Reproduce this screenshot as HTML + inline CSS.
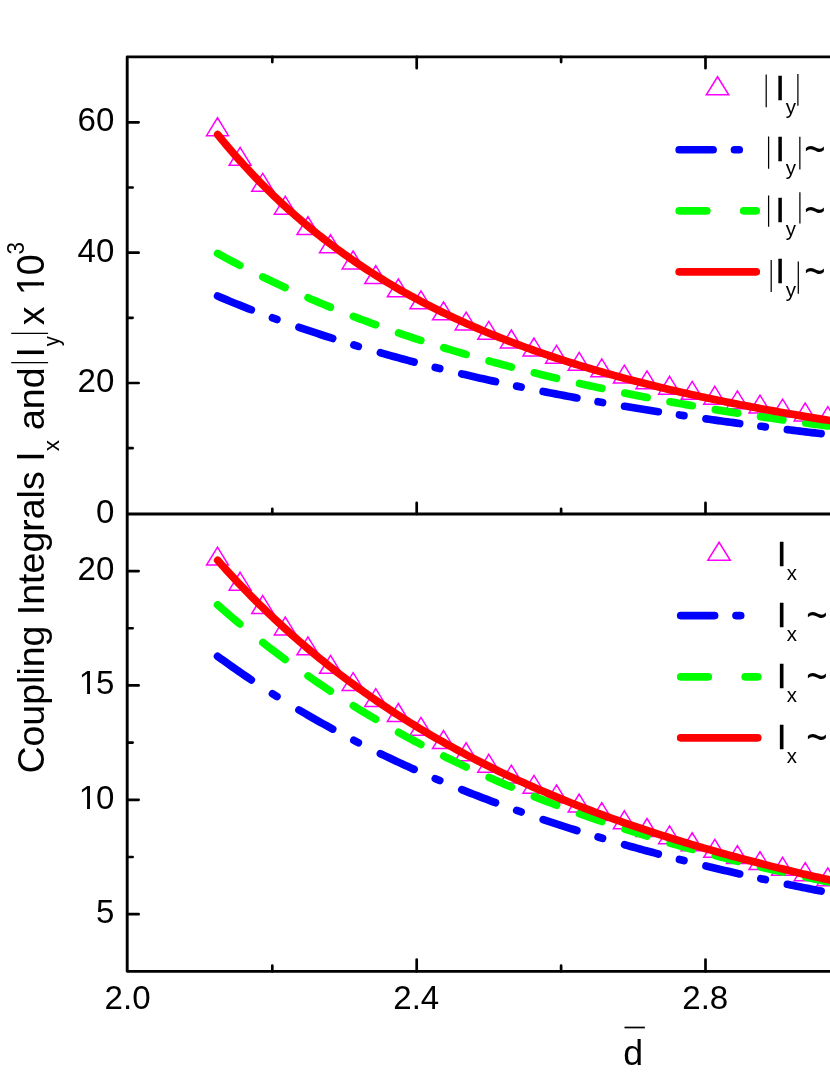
<!DOCTYPE html>
<html><head><meta charset="utf-8"><title>Coupling Integrals</title>
<style>html,body{margin:0;padding:0;background:#fff}body{width:830px;height:1075px;overflow:hidden}</style></head>
<body>
<svg width="830" height="1075" viewBox="0 0 830 1075" style="display:block;font-family:'Liberation Sans',sans-serif;font-kerning:none">
<rect width="830" height="1075" fill="#fff"/>
<path d="M217.50,117.76L228.47,135.66L206.53,135.66ZM240.10,147.38L251.07,165.28L229.14,165.28ZM262.71,173.37L273.67,191.26L251.74,191.26ZM285.31,196.29L296.28,214.18L274.35,214.18ZM307.92,216.62L318.88,234.52L296.95,234.52ZM330.52,234.75L341.48,252.65L319.56,252.65ZM353.12,251.00L364.09,268.90L342.16,268.90ZM375.73,265.64L386.69,283.54L364.76,283.54ZM398.33,278.90L409.30,296.79L387.37,296.79ZM420.94,290.95L431.90,308.85L409.97,308.85ZM443.54,301.97L454.50,319.86L432.57,319.86ZM466.14,312.08L477.11,329.97L455.18,329.97ZM488.75,321.39L499.71,339.29L477.78,339.29ZM511.35,330.01L522.32,347.91L500.39,347.91ZM533.96,338.02L544.92,355.91L522.99,355.91ZM556.56,345.47L567.52,363.37L545.59,363.37ZM579.16,352.44L590.13,370.34L568.20,370.34ZM601.77,358.97L612.73,376.87L590.80,376.87ZM624.37,365.10L635.34,383.00L613.41,383.00ZM646.98,370.87L657.94,388.77L636.01,388.77ZM669.58,376.31L680.54,394.20L658.61,394.20ZM692.18,381.44L703.15,399.33L681.22,399.33ZM714.79,386.27L725.75,404.17L703.82,404.17ZM737.39,390.84L748.36,408.73L726.43,408.73ZM760.00,395.15L770.96,413.04L749.03,413.04ZM782.60,399.21L793.57,417.10L771.63,417.10ZM805.20,403.02L816.17,420.92L794.24,420.92ZM827.81,406.61L838.77,424.51L816.84,424.51ZM850.41,409.97L861.38,427.86L839.45,427.86Z" fill="none" stroke="#f0f" stroke-width="1.5" stroke-linejoin="miter"/>
<path d="M217.50,547.10L228.47,565.00L206.53,565.00ZM240.10,572.29L251.07,590.19L229.14,590.19ZM262.71,595.54L273.67,613.43L251.74,613.43ZM285.31,617.02L296.28,634.91L274.35,634.91ZM307.92,636.92L318.88,654.82L296.95,654.82ZM330.52,655.39L341.48,673.29L319.56,673.29ZM353.12,672.57L364.09,690.46L342.16,690.46ZM375.73,688.57L386.69,706.46L364.76,706.46ZM398.33,703.50L409.30,721.39L387.37,721.39ZM420.94,717.45L431.90,735.35L409.97,735.35ZM443.54,730.52L454.50,748.42L432.57,748.42ZM466.14,742.78L477.11,760.68L455.18,760.68ZM488.75,754.30L499.71,772.19L477.78,772.19ZM511.35,765.13L522.32,783.02L500.39,783.02ZM533.96,775.33L544.92,793.23L522.99,793.23ZM556.56,784.96L567.52,802.85L545.59,802.85ZM579.16,794.05L590.13,811.94L568.20,811.94ZM601.77,802.64L612.73,820.54L590.80,820.54ZM624.37,810.78L635.34,828.68L613.41,828.68ZM646.98,818.50L657.94,836.39L636.01,836.39ZM669.58,825.82L680.54,843.71L658.61,843.71ZM692.18,832.76L703.15,850.66L681.22,850.66ZM714.79,839.37L725.75,857.26L703.82,857.26ZM737.39,845.65L748.36,863.54L726.43,863.54ZM760.00,851.62L770.96,869.52L749.03,869.52ZM782.60,857.31L793.57,875.21L771.63,875.21ZM805.20,862.73L816.17,880.63L794.24,880.63ZM827.81,867.90L838.77,885.79L816.84,885.79ZM850.41,872.82L861.38,890.71L839.45,890.71Z" fill="none" stroke="#f0f" stroke-width="1.5" stroke-linejoin="miter"/>
<path d="M217.60,296.08L220.66,297.38L223.72,298.66L226.78,299.93L229.84,301.19L232.90,302.44L235.95,303.69L239.01,304.92L242.07,306.14L245.13,307.36L248.19,308.56L251.25,309.76M272.50,317.81L276.90,319.42M299.00,327.27L302.06,328.32L305.12,329.37L308.18,330.41L311.24,331.44L314.30,332.46L317.35,333.47L320.41,334.48L323.47,335.48L326.53,336.47L329.59,337.46L332.65,338.43M353.90,345.03L358.30,346.35M380.40,352.80L383.46,353.67L386.52,354.53L389.58,355.38L392.64,356.23L395.70,357.07L398.75,357.91L401.81,358.74L404.87,359.57L407.93,360.38L410.99,361.20L414.05,362.00M435.30,367.46L439.70,368.56M461.80,373.90L464.86,374.62L467.92,375.34L470.98,376.05L474.04,376.75L477.10,377.45L480.15,378.15L483.21,378.84L486.27,379.52L489.33,380.21L492.39,380.88L495.45,381.56M516.70,386.11L521.10,387.02M543.20,391.50L546.26,392.10L549.32,392.70L552.38,393.30L555.44,393.89L558.50,394.47L561.55,395.06L564.61,395.64L567.67,396.22L570.73,396.79L573.79,397.36L576.85,397.92M598.10,401.75L602.50,402.53M624.60,406.30L627.66,406.81L630.72,407.32L633.78,407.82L636.84,408.32L639.90,408.82L642.95,409.32L646.01,409.81L649.07,410.30L652.13,410.78L655.19,411.26L658.25,411.74M679.50,415.00L683.90,415.65M706.00,418.87L709.06,419.30L712.12,419.74L715.18,420.17L718.24,420.59L721.30,421.02L724.35,421.44L727.41,421.86L730.47,422.28L733.53,422.69L736.59,423.11L739.65,423.52M760.90,426.30L765.30,426.87M787.40,429.63L790.46,430.00L793.52,430.37L796.58,430.74L799.64,431.11L802.70,431.48L805.75,431.84L808.81,432.20L811.87,432.56L814.93,432.92L817.99,433.27L821.05,433.63M842.30,436.03L846.70,436.52" fill="none" stroke="#00f" stroke-width="7.7" stroke-linecap="round" stroke-linejoin="round"/>
<path d="M217.60,253.46L220.77,255.20L223.94,256.92L227.11,258.63L230.29,260.33L233.46,262.01L236.63,263.68L239.80,265.33M262.85,276.94L266.02,278.48L269.19,280.01L272.36,281.53L275.54,283.04L278.71,284.53L281.88,286.01L285.05,287.48M308.10,297.80L311.27,299.17L314.44,300.53L317.61,301.89L320.79,303.22L323.96,304.55L327.13,305.87L330.30,307.18M353.35,316.37L356.52,317.59L359.69,318.80L362.86,320.01L366.04,321.20L369.21,322.39L372.38,323.56L375.55,324.73M398.60,332.93L401.77,334.02L404.94,335.10L408.11,336.18L411.29,337.24L414.46,338.30L417.63,339.35L420.80,340.39M443.85,347.72L447.02,348.70L450.19,349.67L453.36,350.63L456.54,351.58L459.71,352.53L462.88,353.47L466.05,354.40M489.10,360.97L492.27,361.84L495.44,362.71L498.61,363.57L501.79,364.43L504.96,365.28L508.13,366.12L511.30,366.95M534.35,372.84L537.52,373.63L540.69,374.41L543.86,375.18L547.04,375.95L550.21,376.71L553.38,377.47L556.55,378.22M579.60,383.51L582.77,384.22L585.94,384.92L589.11,385.62L592.29,386.31L595.46,386.99L598.63,387.67L601.80,388.35M624.85,393.11L628.02,393.75L631.19,394.38L634.36,395.01L637.54,395.63L640.71,396.25L643.88,396.86L647.05,397.47M670.10,401.77L673.27,402.34L676.44,402.91L679.61,403.48L682.79,404.04L685.96,404.60L689.13,405.15L692.30,405.70M715.35,409.58L718.52,410.10L721.69,410.62L724.86,411.13L728.04,411.64L731.21,412.14L734.38,412.64L737.55,413.14M760.60,416.65L763.77,417.12L766.94,417.59L770.11,418.05L773.29,418.51L776.46,418.97L779.63,419.42L782.80,419.87M805.85,423.05L809.02,423.48L812.19,423.90L815.36,424.32L818.54,424.74L821.71,425.15L824.88,425.56L828.05,425.97" fill="none" stroke="#0f0" stroke-width="7.7" stroke-linecap="round" stroke-linejoin="round"/>
<path d="M217.70,134.60L220.70,138.28L223.70,141.91L226.70,145.49L229.71,149.02L232.71,152.50L235.71,155.94L238.71,159.33L241.71,162.67L244.71,165.97L247.71,169.23L250.72,172.44L253.72,175.61L256.72,178.73L259.72,181.82L262.72,184.87L265.72,187.87L268.72,190.84L271.73,193.76L274.73,196.65L277.73,199.50L280.73,202.32L283.73,205.09L286.73,207.84L289.73,210.54L292.74,213.22L295.74,215.85L298.74,218.46L301.74,221.03L304.74,223.57L307.74,226.07L310.74,228.55L313.75,230.99L316.75,233.41L319.75,235.79L322.75,238.15L325.75,240.47L328.75,242.77L331.75,245.03L334.76,247.27L337.76,249.49L340.76,251.67L343.76,253.83L346.76,255.96L349.76,258.07L352.76,260.15L355.77,262.21L358.77,264.24L361.77,266.25L364.77,268.23L367.77,270.19L370.77,272.12L373.77,274.04L376.78,275.93L379.78,277.80L382.78,279.65L385.78,281.47L388.78,283.28L391.78,285.06L394.78,286.82L397.79,288.56L400.79,290.29L403.79,291.99L406.79,293.67L409.79,295.34L412.79,296.98L415.79,298.61L418.80,300.22L421.80,301.81L424.80,303.38L427.80,304.93L430.80,306.47L433.80,307.99L436.80,309.49L439.81,310.98L442.81,312.45L445.81,313.91L448.81,315.35L451.81,316.77L454.81,318.18L457.81,319.57L460.82,320.95L463.82,322.31L466.82,323.66L469.82,324.99L472.82,326.31L475.82,327.62L478.82,328.91L481.83,330.18L484.83,331.45L487.83,332.70L490.83,333.94L493.83,335.17L496.83,336.38L499.83,337.58L502.84,338.77L505.84,339.94L508.84,341.11L511.84,342.26L514.84,343.40L517.84,344.53L520.84,345.64L523.85,346.75L526.85,347.85L529.85,348.93L532.85,350.00L535.85,351.07L538.85,352.12L541.86,353.16L544.86,354.19L547.86,355.21L550.86,356.23L553.86,357.23L556.86,358.22L559.86,359.20L562.87,360.18L565.87,361.14L568.87,362.10L571.87,363.04L574.87,363.98L577.87,364.91L580.87,365.83L583.88,366.74L586.88,367.64L589.88,368.54L592.88,369.42L595.88,370.30L598.88,371.17L601.88,372.03L604.89,372.89L607.89,373.73L610.89,374.57L613.89,375.40L616.89,376.23L619.89,377.04L622.89,377.85L625.90,378.66L628.90,379.45L631.90,380.24L634.90,381.02L637.90,381.80L640.90,382.56L643.90,383.32L646.91,384.08L649.91,384.83L652.91,385.57L655.91,386.31L658.91,387.04L661.91,387.76L664.91,388.48L667.92,389.19L670.92,389.89L673.92,390.59L676.92,391.29L679.92,391.98L682.92,392.66L685.92,393.34L688.93,394.01L691.93,394.68L694.93,395.34L697.93,395.99L700.93,396.64L703.93,397.29L706.93,397.93L709.94,398.57L712.94,399.20L715.94,399.82L718.94,400.44L721.94,401.06L724.94,401.67L727.94,402.28L730.95,402.88L733.95,403.48L736.95,404.07L739.95,404.66L742.95,405.25L745.95,405.83L748.95,406.40L751.96,406.98L754.96,407.54L757.96,408.11L760.96,408.67L763.96,409.22L766.96,409.78L769.96,410.32L772.97,410.87L775.97,411.41L778.97,411.94L781.97,412.48L784.97,413.01L787.97,413.53L790.97,414.06L793.98,414.57L796.98,415.09L799.98,415.60L802.98,416.11L805.98,416.61L808.98,417.12L811.98,417.61L814.99,418.11L817.99,418.60L820.99,419.09L823.99,419.58L826.99,420.06L829.99,420.54L832.99,421.02L836.00,421.49L839.00,421.96L842.00,422.43L845.00,422.89" fill="none" stroke="#f00" stroke-width="7.7" stroke-linecap="round" stroke-linejoin="round"/>
<path d="M217.60,656.31L220.66,658.53L223.72,660.74L226.78,662.93L229.84,665.11L232.90,667.26L235.95,669.40L239.01,671.53L242.07,673.63L245.13,675.72L248.19,677.79L251.25,679.85M272.50,693.69L276.90,696.47M299.00,709.94L302.06,711.75L305.12,713.54L308.18,715.32L311.24,717.08L314.30,718.84L317.35,720.57L320.41,722.30L323.47,724.01L326.53,725.71L329.59,727.40L332.65,729.07M353.90,740.37L358.30,742.63M380.40,753.66L383.46,755.14L386.52,756.61L389.58,758.06L392.64,759.51L395.70,760.95L398.75,762.38L401.81,763.80L404.87,765.20L407.93,766.60L410.99,767.99L414.05,769.37M435.30,778.67L439.70,780.54M461.80,789.65L464.86,790.88L467.92,792.09L470.98,793.30L474.04,794.50L477.10,795.70L480.15,796.88L483.21,798.06L486.27,799.22L489.33,800.38L492.39,801.54L495.45,802.68M516.70,810.42L521.10,811.98M543.20,819.59L546.26,820.61L549.32,821.63L552.38,822.64L555.44,823.64L558.50,824.64L561.55,825.63L564.61,826.62L567.67,827.60L570.73,828.57L573.79,829.54L576.85,830.50M598.10,837.00L602.50,838.31M624.60,844.73L627.66,845.59L630.72,846.45L633.78,847.30L636.84,848.15L639.90,849.00L642.95,849.84L646.01,850.67L649.07,851.50L652.13,852.32L655.19,853.14L658.25,853.95M679.50,859.47L683.90,860.59M706.00,866.04L709.06,866.78L712.12,867.51L715.18,868.24L718.24,868.96L721.30,869.68L724.35,870.40L727.41,871.11L730.47,871.82L733.53,872.52L736.59,873.22L739.65,873.92M760.90,878.64L765.30,879.60M787.40,884.28L790.46,884.92L793.52,885.55L796.58,886.17L799.64,886.80L802.70,887.42L805.75,888.04L808.81,888.65L811.87,889.26L814.93,889.87L817.99,890.47L821.05,891.07M842.30,895.15L846.70,895.98" fill="none" stroke="#00f" stroke-width="7.7" stroke-linecap="round" stroke-linejoin="round"/>
<path d="M217.60,604.91L220.77,607.69L223.94,610.45L227.11,613.19L230.29,615.90L233.46,618.59L236.63,621.26L239.80,623.91M262.85,642.50L266.02,644.98L269.19,647.43L272.36,649.86L275.54,652.28L278.71,654.67L281.88,657.04L285.05,659.40M308.10,675.95L311.27,678.15L314.44,680.34L317.61,682.50L320.79,684.65L323.96,686.78L327.13,688.90L330.30,691.00M353.35,705.75L356.52,707.72L359.69,709.67L362.86,711.60L366.04,713.52L369.21,715.42L372.38,717.31L375.55,719.18M398.60,732.36L401.77,734.11L404.94,735.85L408.11,737.58L411.29,739.29L414.46,741.00L417.63,742.68L420.80,744.36M443.85,756.14L447.02,757.71L450.19,759.27L453.36,760.82L456.54,762.35L459.71,763.87L462.88,765.39L466.05,766.88M489.10,777.44L492.27,778.85L495.44,780.25L498.61,781.63L501.79,783.01L504.96,784.37L508.13,785.73L511.30,787.07M534.35,796.55L537.52,797.81L540.69,799.06L543.86,800.31L547.04,801.54L550.21,802.77L553.38,803.99L556.55,805.19M579.60,813.71L582.77,814.84L585.94,815.97L589.11,817.09L592.29,818.20L595.46,819.30L598.63,820.40L601.80,821.48M624.85,829.14L628.02,830.17L631.19,831.18L634.36,832.19L637.54,833.19L640.71,834.18L643.88,835.17L647.05,836.14M670.10,843.05L673.27,843.97L676.44,844.88L679.61,845.79L682.79,846.69L685.96,847.59L689.13,848.48L692.30,849.36M715.35,855.59L718.52,856.42L721.69,857.25L724.86,858.07L728.04,858.88L731.21,859.69L734.38,860.49L737.55,861.29M760.60,866.92L763.77,867.67L766.94,868.42L770.11,869.16L773.29,869.89L776.46,870.62L779.63,871.35L782.80,872.07M805.85,877.16L809.02,877.84L812.19,878.52L815.36,879.19L818.54,879.85L821.71,880.52L824.88,881.17L828.05,881.83" fill="none" stroke="#0f0" stroke-width="7.7" stroke-linecap="round" stroke-linejoin="round"/>
<path d="M217.70,560.31L220.70,563.69L223.70,567.03L226.70,570.34L229.71,573.62L232.71,576.87L235.71,580.08L238.71,583.27L241.71,586.42L244.71,589.54L247.71,592.63L250.72,595.68L253.72,598.71L256.72,601.71L259.72,604.68L262.72,607.62L265.72,610.54L268.72,613.42L271.73,616.28L274.73,619.10L277.73,621.91L280.73,624.68L283.73,627.43L286.73,630.15L289.73,632.84L292.74,635.51L295.74,638.16L298.74,640.78L301.74,643.37L304.74,645.94L307.74,648.49L310.74,651.01L313.75,653.51L316.75,655.98L319.75,658.44L322.75,660.86L325.75,663.27L328.75,665.65L331.75,668.02L334.76,670.36L337.76,672.68L340.76,674.97L343.76,677.25L346.76,679.50L349.76,681.74L352.76,683.95L355.77,686.15L358.77,688.32L361.77,690.48L364.77,692.61L367.77,694.73L370.77,696.82L373.77,698.90L376.78,700.96L379.78,703.00L382.78,705.03L385.78,707.03L388.78,709.02L391.78,710.99L394.78,712.94L397.79,714.88L400.79,716.79L403.79,718.70L406.79,720.58L409.79,722.45L412.79,724.30L415.79,726.14L418.80,727.96L421.80,729.76L424.80,731.55L427.80,733.32L430.80,735.08L433.80,736.82L436.80,738.55L439.81,740.26L442.81,741.96L445.81,743.65L448.81,745.32L451.81,746.97L454.81,748.62L457.81,750.24L460.82,751.86L463.82,753.46L466.82,755.05L469.82,756.62L472.82,758.18L475.82,759.73L478.82,761.27L481.83,762.79L484.83,764.30L487.83,765.80L490.83,767.28L493.83,768.76L496.83,770.22L499.83,771.67L502.84,773.11L505.84,774.53L508.84,775.95L511.84,777.35L514.84,778.75L517.84,780.13L520.84,781.50L523.85,782.86L526.85,784.20L529.85,785.54L532.85,786.87L535.85,788.19L538.85,789.49L541.86,790.79L544.86,792.07L547.86,793.35L550.86,794.62L553.86,795.87L556.86,797.12L559.86,798.36L562.87,799.58L565.87,800.80L568.87,802.01L571.87,803.21L574.87,804.40L577.87,805.58L580.87,806.75L583.88,807.91L586.88,809.07L589.88,810.21L592.88,811.35L595.88,812.48L598.88,813.60L601.88,814.71L604.89,815.81L607.89,816.91L610.89,818.00L613.89,819.08L616.89,820.15L619.89,821.21L622.89,822.27L625.90,823.31L628.90,824.35L631.90,825.39L634.90,826.41L637.90,827.43L640.90,828.44L643.90,829.44L646.91,830.44L649.91,831.43L652.91,832.41L655.91,833.39L658.91,834.35L661.91,835.32L664.91,836.27L667.92,837.22L670.92,838.16L673.92,839.09L676.92,840.02L679.92,840.94L682.92,841.86L685.92,842.77L688.93,843.67L691.93,844.57L694.93,845.46L697.93,846.34L700.93,847.22L703.93,848.09L706.93,848.96L709.94,849.82L712.94,850.67L715.94,851.52L718.94,852.36L721.94,853.20L724.94,854.03L727.94,854.86L730.95,855.68L733.95,856.50L736.95,857.31L739.95,858.11L742.95,858.91L745.95,859.71L748.95,860.50L751.96,861.28L754.96,862.06L757.96,862.83L760.96,863.60L763.96,864.37L766.96,865.13L769.96,865.88L772.97,866.63L775.97,867.38L778.97,868.12L781.97,868.85L784.97,869.58L787.97,870.31L790.97,871.03L793.98,871.75L796.98,872.46L799.98,873.17L802.98,873.88L805.98,874.58L808.98,875.27L811.98,875.96L814.99,876.65L817.99,877.34L820.99,878.01L823.99,878.69L826.99,879.36L829.99,880.03L832.99,880.69L836.00,881.35L839.00,882.01L842.00,882.66L845.00,883.30" fill="none" stroke="#f00" stroke-width="7.7" stroke-linecap="round" stroke-linejoin="round"/>
<g stroke="#000" fill="none" stroke-linecap="butt" stroke-linejoin="round">
<path d="M835,56.9H127.2V971.35H835M127.2,514.0H835" stroke-width="2.9"/>
<path d="M127.2,122.35H138.65M127.2,187.52H132.65M127.2,252.68H138.65M127.2,317.84H132.65M127.2,383.00H138.65M127.2,448.17H132.65M127.2,571.10H138.65M127.2,628.27H132.65M127.2,685.45H138.65M127.2,742.62H132.65M127.2,799.80H138.65M127.2,856.98H132.65M127.2,914.15H138.65M272.30,56.9v5.15M272.30,514.0v-5.15M272.30,971.35v-5.65M416.70,56.9v11.25M416.70,514.0v-11.25M416.70,971.35v-11.75M561.10,56.9v5.15M561.10,514.0v-5.15M561.10,971.35v-5.65M705.50,56.9v11.25M705.50,514.0v-11.25M705.50,971.35v-11.75" stroke-width="2.7" stroke-linecap="round"/>
</g>
<path d="M624.5,1027.5H644.9" stroke="#000" stroke-width="1.7"/>
<path d="M11.2,362.5H48.1M11.2,333.3H48.1" stroke="#000" stroke-width="1.25"/>
<path d="M717.55,76.75L728.76,94.85L706.33,94.85Z" fill="none" stroke="#f0f" stroke-width="1.5"/>
<path d="M679.20,149.75h33.9M734.50,149.75h4.7" stroke="#00f" stroke-width="7.7" stroke-linecap="round"/>
<path d="M679.20,210.80h27.6M743.70,210.80H756.25" stroke="#0f0" stroke-width="7.7" stroke-linecap="round"/>
<path d="M679.20,271.85H756.25" stroke="#f00" stroke-width="7.7" stroke-linecap="round"/>
<path d="M719.05,542.25L730.26,560.35L707.83,560.35Z" fill="none" stroke="#f0f" stroke-width="1.5"/>
<path d="M680.70,615.60h33.9M736.00,615.60h4.7" stroke="#00f" stroke-width="7.7" stroke-linecap="round"/>
<path d="M680.70,676.80h27.6M745.20,676.80H757.75" stroke="#0f0" stroke-width="7.7" stroke-linecap="round"/>
<path d="M680.70,737.80H757.75" stroke="#f00" stroke-width="7.7" stroke-linecap="round"/>
<path d="M766.2,74.5V107.2M797.9,74.0V105.8M768.6,136.5V168.8M799.85,136.8V169.5M768.6,195.4V226.7M799.9,192.3V223.6M771.2,259.9V292.0M798.3,261.5V293.7" stroke="#000" stroke-width="1.25"/>
<g style="filter:grayscale(1)">
<text transform="translate(77.58,131.35) scale(1.0000,1.0000)" font-size="33.1" >60</text>
<text transform="translate(77.58,261.68) scale(1.0000,1.0000)" font-size="33.1" >40</text>
<text transform="translate(77.58,392.00) scale(1.0000,1.0000)" font-size="33.1" >20</text>
<text transform="translate(95.98,522.70) scale(1.0000,1.0000)" font-size="33.1" >0</text>
<text transform="translate(77.58,580.10) scale(1.0000,1.0000)" font-size="33.1" >20</text>
<g transform="translate(77.67,694.45) scale(1.0000,1.0000)"><text font-size="33.1" ><tspan dx="1.10">1</tspan><tspan dx="-1.10">5</tspan></text><rect x="2.72" y="-4.20" width="6.71" height="5.01" fill="#fff"/><rect x="12.35" y="-4.20" width="6.21" height="5.01" fill="#fff"/></g>
<g transform="translate(77.58,808.80) scale(1.0000,1.0000)"><text font-size="33.1" ><tspan dx="1.10">1</tspan><tspan dx="-1.10">0</tspan></text><rect x="2.72" y="-4.20" width="6.71" height="5.01" fill="#fff"/><rect x="12.35" y="-4.20" width="6.21" height="5.01" fill="#fff"/></g>
<text transform="translate(96.08,923.15) scale(1.0000,1.0000)" font-size="33.1" >5</text>
<text transform="translate(104.61,1009.30) scale(1.0000,1.0000)" font-size="33.1" >2.0</text>
<text transform="translate(393.25,1009.30) scale(1.0000,1.0000)" font-size="33.1" >2.4</text>
<text transform="translate(682.28,1009.30) scale(1.0000,1.0000)" font-size="33.1" >2.8</text>
<text transform="translate(623.20,1065.30) scale(1.0000,1.0000)" font-size="35.7" >d</text>
<text transform="translate(43.90,773.60) rotate(-90) scale(1.0000,1.0000)" font-size="37.5" >Coupling Integrals</text>
<text transform="translate(43.90,461.86) rotate(-90) scale(1.0000,1.0400)" font-size="37.5" >I</text>
<text transform="translate(58.80,451.25) rotate(-90) scale(1.0000,1.0000)" font-size="22.5" >x</text>
<text transform="translate(43.90,429.99) rotate(-90) scale(1.0000,1.0000)" font-size="37.5" >and</text>
<text transform="translate(43.90,357.46) rotate(-90) scale(1.0000,1.0400)" font-size="37.5" >I</text>
<text transform="translate(58.60,346.15) rotate(-90) scale(0.9000,1.0000)" font-size="22.5" >y</text>
<text transform="translate(43.90,325.32) rotate(-90) scale(1.0000,1.0000)" font-size="37.5" >x</text>
<g transform="translate(43.90,296.18) rotate(-90) scale(1.0000,1.0400)"><text font-size="37.5" ><tspan dx="1.25">1</tspan></text><rect x="3.08" y="-4.76" width="7.60" height="5.68" fill="#fff"/><rect x="13.99" y="-4.76" width="7.03" height="5.68" fill="#fff"/></g>
<text transform="translate(43.90,275.16) rotate(-90) scale(1.0000,1.0400)" font-size="37.5" >0</text>
<text transform="translate(23.80,254.56) rotate(-90) scale(1.0000,1.0300)" font-size="22.5" >3</text>
<text transform="translate(775.14,100.20) scale(1.0000,1.0000)" font-size="35.3" stroke="#000" stroke-width="0.3">I</text>
<text transform="translate(785.75,113.80) scale(1.0000,1.0000)" font-size="20.5" >y</text>
<text transform="translate(775.14,161.25) scale(1.0000,1.0000)" font-size="35.3" stroke="#000" stroke-width="0.3">I</text>
<text transform="translate(785.75,174.85) scale(1.0000,1.0000)" font-size="20.5" >y</text>
<text transform="translate(804.36,164.91) rotate(0.03) scale(1.0714,1.4229)" font-size="34.0">~</text>
<text transform="translate(775.14,222.30) scale(1.0000,1.0000)" font-size="35.3" stroke="#000" stroke-width="0.3">I</text>
<text transform="translate(785.75,235.90) scale(1.0000,1.0000)" font-size="20.5" >y</text>
<text transform="translate(804.36,225.96) rotate(0.03) scale(1.0714,1.4229)" font-size="34.0">~</text>
<text transform="translate(775.14,283.35) scale(1.0000,1.0000)" font-size="35.3" stroke="#000" stroke-width="0.3">I</text>
<text transform="translate(785.75,296.95) scale(1.0000,1.0000)" font-size="20.5" >y</text>
<text transform="translate(804.36,287.01) rotate(0.03) scale(1.0714,1.4229)" font-size="34.0">~</text>
<text transform="translate(776.64,565.50) scale(1.0000,1.0000)" font-size="35.3" stroke="#000" stroke-width="0.3">I</text>
<text transform="translate(786.67,579.50) scale(1.0000,1.0000)" font-size="20.4" >x</text>
<text transform="translate(776.64,626.80) scale(1.0000,1.0000)" font-size="35.3" stroke="#000" stroke-width="0.3">I</text>
<text transform="translate(786.67,640.80) scale(1.0000,1.0000)" font-size="20.4" >x</text>
<text transform="translate(806.26,630.66) rotate(0.03) scale(1.0714,1.4229)" font-size="34.0">~</text>
<text transform="translate(776.64,688.00) scale(1.0000,1.0000)" font-size="35.3" stroke="#000" stroke-width="0.3">I</text>
<text transform="translate(786.67,702.00) scale(1.0000,1.0000)" font-size="20.4" >x</text>
<text transform="translate(806.26,691.86) rotate(0.03) scale(1.0714,1.4229)" font-size="34.0">~</text>
<text transform="translate(776.64,749.00) scale(1.0000,1.0000)" font-size="35.3" stroke="#000" stroke-width="0.3">I</text>
<text transform="translate(786.67,763.00) scale(1.0000,1.0000)" font-size="20.4" >x</text>
<text transform="translate(806.26,752.86) rotate(0.03) scale(1.0714,1.4229)" font-size="34.0">~</text>
</g>
</svg>
</body></html>
